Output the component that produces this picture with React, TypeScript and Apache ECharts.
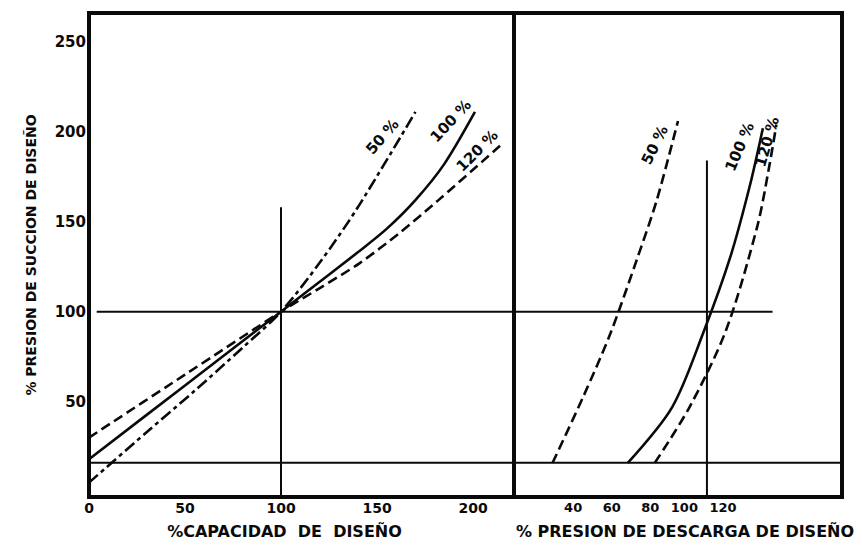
import React, { useEffect, useRef } from "react";
import * as echarts from "echarts";

// Tick labels
const leftXTicks = [0, 50, 100, 150, 200];
const rightXTicks = [40, 60, 80, 100, 120];
const yTicks = [50, 100, 150, 200, 250];

// Left panel: % suction pressure vs % design capacity
const suction50 = [[0, 5], [30, 33], [55, 56], [80, 80], [100, 100], [120, 127], [140, 158], [170, 211]];
const suction100 = [[0, 18], [50, 59], [100, 100], [120, 116.5], [140, 133], [155, 146], [170, 162], [185, 182], [201, 211]];
const suction120 = [[0, 30], [50, 65], [100, 100], [120, 113], [141, 127], [162, 144], [182, 162], [216, 194]];

// Right panel: % suction pressure vs % discharge pressure
const discharge50 = [[20, 16], [36, 53], [50, 88], [64, 130], [74, 162], [85, 206]];
const discharge100 = [[59, 16], [82, 47], [98, 88], [112, 130], [122, 169], [129, 202]];
const discharge120 = [[73, 16], [91, 47], [110, 90], [126, 147], [132, 179], [136, 204]];

// Reference lines
const leftH100 = [[4, 100], [221.35, 100]];
const rightH100 = [[0, 100], [134, 100]];
const leftHLow = [[0, 16], [221.35, 16]];
const rightHLow = [[0, 16], [170, 16]];
const leftV100 = [[100, -3], [100, 158]];
const rightV100 = [[100, -3], [100, 184]];

// Curve labels
const leftLabels = [
  { text: "50 %", coord: [152.8, 197.2], rotate: 49 },
  { text: "100 %", coord: [188.4, 206], rotate: 47 },
  { text: "120 %", coord: [202.2, 189.4], rotate: 45 },
];
const rightLabels = [
  { text: "50 %", coord: [73, 192.6], rotate: 64 },
  { text: "100 %", coord: [117, 191.6], rotate: 67 },
  { text: "120 %", coord: [131.2, 194.4], rotate: 74 },
];

const FONT = '"DejaVu Sans", sans-serif';
const INK = "#0a0a0a";

const DASH = [10, 5];
const DASHDOT = [12, 4, 4, 4];

function curve(name: string, data: number[][], type: any, grid: number, label?: { text: string; coord: number[]; rotate: number }) {
  const s: any = {
    name,
    type: "line",
    xAxisIndex: grid,
    yAxisIndex: grid,
    data,
    showSymbol: false,
    smooth: 0.3,
    lineStyle: { color: INK, width: 2.6, type, cap: "butt" },
    silent: true,
    z: 3,
  };
  if (label) {
    s.markPoint = {
      symbol: "circle",
      symbolSize: 0,
      silent: true,
      data: [
        {
          coord: label.coord,
          label: {
            show: true,
            position: "inside",
            formatter: label.text,
            rotate: label.rotate,
            color: INK,
            fontFamily: FONT,
            fontWeight: "bold",
            fontSize: 15,
          },
        },
      ],
    };
  }
  return s;
}

function refLine(data: number[][], grid: number) {
  return {
    type: "line",
    xAxisIndex: grid,
    yAxisIndex: grid,
    data,
    showSymbol: false,
    lineStyle: { color: INK, width: 2 },
    silent: true,
    z: 2,
  };
}

export default function App() {
  const ref = useRef<HTMLDivElement>(null);
  useEffect(() => {
    if (!ref.current) return;
    const chart = echarts.init(ref.current, null, { renderer: "svg" });
    const tickLabel = { color: INK, fontFamily: FONT, fontWeight: "bold", fontSize: 14 };
    const titleStyle = { color: INK, fontFamily: FONT, fontWeight: "bold", fontSize: 16 };
    chart.setOption({
      animation: false,
      backgroundColor: "#fff",
      grid: [
        { left: 89, top: 13, width: 425, height: 484, show: true, borderColor: INK, borderWidth: 4, backgroundColor: "transparent" },
        { left: 514, top: 13, width: 328, height: 484, show: true, borderColor: INK, borderWidth: 4, backgroundColor: "transparent" },
      ],
      xAxis: [
        {
          type: "value",
          gridIndex: 0,
          min: 0,
          max: 221.35,
          axisLine: { show: false },
          axisTick: { show: false },
          splitLine: { show: false },
          axisLabel: { ...tickLabel, customValues: leftXTicks, margin: 4, showMinLabel: true, showMaxLabel: true },
          name: "%CAPACIDAD  DE  DISEÑO",
          nameLocation: "middle",
          nameGap: 26,
          nameTextStyle: { ...titleStyle, padding: [0, 34, 0, 0] },
        },
        {
          type: "value",
          gridIndex: 1,
          min: 0,
          max: 170,
          axisLine: { show: false },
          axisTick: { show: false },
          splitLine: { show: false },
          axisLabel: { ...tickLabel, fontSize: 13, customValues: rightXTicks, margin: 4, align: "right", padding: [0, 9, 0, 0] },
          name: "% PRESION DE DESCARGA DE DISEÑO",
          nameLocation: "middle",
          nameGap: 26,
          nameTextStyle: { ...titleStyle, padding: [0, 0, 0, 14] },
        },
      ],
      yAxis: [
        {
          type: "value",
          gridIndex: 0,
          min: -3,
          max: 266,
          axisLine: { show: false },
          axisTick: { show: false },
          splitLine: { show: false },
          axisLabel: { ...tickLabel, fontSize: 15, customValues: yTicks, margin: 3 },
          name: "% PRESION DE SUCCION DE DISEÑO",
          nameLocation: "middle",
          nameGap: 51,
          nameTextStyle: { color: INK, fontFamily: FONT, fontWeight: "bold", fontSize: 14 },
        },
        {
          type: "value",
          gridIndex: 1,
          min: -3,
          max: 266,
          axisLine: { show: false },
          axisTick: { show: false },
          splitLine: { show: false },
          axisLabel: { show: false },
        },
      ],
      series: [
        refLine(leftH100, 0),
        refLine(leftHLow, 0),
        refLine(leftV100, 0),
        refLine(rightH100, 1),
        refLine(rightHLow, 1),
        refLine(rightV100, 1),
        curve("Succión 50%", suction50, DASHDOT, 0, leftLabels[0]),
        curve("Succión 100%", suction100, "solid", 0, leftLabels[1]),
        curve("Succión 120%", suction120, DASH, 0, leftLabels[2]),
        curve("Descarga 50%", discharge50, DASH, 1, rightLabels[0]),
        curve("Descarga 100%", discharge100, "solid", 1, rightLabels[1]),
        curve("Descarga 120%", discharge120, DASH, 1, rightLabels[2]),
      ],
    });
    return () => chart.dispose();
  }, []);
  return (
    <div
      ref={ref}
      style={{ position: "fixed", left: 0, top: 0, width: 862, height: 553, background: "#fff" }}
    />
  );
}
